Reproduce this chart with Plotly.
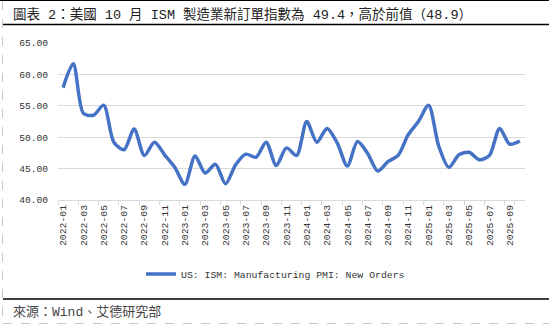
import plotly.graph_objects as go

months = [f"{y}-{m:02d}" for y in range(2022, 2026) for m in range(1, 13)][:46]
new_orders = [
    57.9, 61.7, 53.8, 53.5, 55.1, 49.2, 48.0, 51.3, 47.1, 49.2, 47.2, 45.2,
    42.5, 47.0, 44.3, 45.7, 42.6, 45.6, 47.3, 46.8, 49.2, 45.5, 48.3, 47.1,
    52.5, 49.2, 51.4, 49.1, 45.4, 49.3, 47.4, 44.6, 46.1, 47.1, 50.4, 52.5,
    55.1, 48.6, 45.2, 47.2, 47.6, 46.4, 47.1, 51.4, 48.9, 49.4,
]
series_name = "US: ISM: Manufacturing PMI: New Orders"
title_text = "圖表 2：美國 10 月 ISM 製造業新訂單指數為 49.4，高於前值（48.9）"
source_text = "來源：Wind、艾德研究部"
tick_labels = months[::2]

W, H = 549, 327
L, R, T, B = 58, 24, 43, 127
PW, PH = W - L - R, H - T - B

def fx(px):
    return (px - L) / PW

def fy(py):
    return (H - B - py) / PH

mono = "Liberation Mono, DejaVu Sans Mono, monospace"
mixed = "Liberation Mono, Noto Sans CJK TC, Noto Sans CJK SC, sans-serif"

fig = go.Figure()
fig.add_trace(go.Scatter(
    x=months, y=new_orders, mode="lines", name=series_name,
    line=dict(color="#4472C4", width=3.5, shape="spline", smoothing=0.8),
))

fig.update_layout(
    width=W, height=H, autosize=False,
    margin=dict(l=L, r=R, t=T, b=B),
    paper_bgcolor="white", plot_bgcolor="white",
    showlegend=True,
    legend=dict(orientation="h", x=fx(141), xanchor="left", y=fy(274), yanchor="middle",
                font=dict(family=mono, size=9.8, color="#333333"),
                bgcolor="rgba(0,0,0,0)", itemwidth=30),
    xaxis=dict(
        type="category", range=[-0.5, len(months) - 0.5],
        tickmode="array", tickvals=tick_labels, ticktext=tick_labels,
        tickangle=-90, tickson="boundaries", ticks="outside", ticklen=4,
        tickcolor="#d9d9d9", showline=True, linecolor="#d9d9d9", linewidth=1,
        showgrid=False, tickfont=dict(family=mono, size=9.8, color="#333333"),
        fixedrange=True,
    ),
    yaxis=dict(
        range=[40, 65], dtick=5, tick0=40, tickformat=".2f",
        showgrid=True, gridcolor="#d9d9d9", gridwidth=1,
        showline=False, zeroline=False, ticks="", ticklabelstandoff=9,
        tickfont=dict(family=mono, size=9.6, color="#333333"),
        fixedrange=True,
    ),
)

shapes = [
    dict(type="line", xref="paper", yref="paper", x0=fx(0), x1=fx(W), y0=fy(0.5), y1=fy(0.5),
         line=dict(color="black", width=1)),
    dict(type="line", xref="paper", yref="paper", x0=fx(3), x1=fx(W), y0=fy(24.5), y1=fy(24.5),
         line=dict(color="black", width=1.5)),
    dict(type="line", xref="paper", yref="paper", x0=fx(3), x1=fx(W), y0=fy(299), y1=fy(299),
         line=dict(color="black", width=1.5)),
    dict(type="line", xref="paper", yref="paper", x0=fx(3), x1=fx(W), y0=fy(323.5), y1=fy(323.5),
         line=dict(color="#c8c8c8", width=1, dash="dash")),
    dict(type="line", xref="paper", yref="paper", x0=fx(2.5), x1=fx(2.5), y0=fy(1), y1=fy(323.5),
         line=dict(color="#c8c8c8", width=1, dash="dash")),
]
fig.update_layout(shapes=shapes)

fig.add_annotation(text=title_text, xref="paper", yref="paper", x=fx(11), y=fy(14),
                   xanchor="left", yanchor="middle", showarrow=False,
                   font=dict(family=mixed, size=13.5, color="#222222"))
fig.add_annotation(text=source_text, xref="paper", yref="paper", x=fx(11), y=fy(312),
                   xanchor="left", yanchor="middle", showarrow=False,
                   font=dict(family=mixed, size=13, color="#444444"))

fig.write_html("out.html", config={"displayModeBar": False})
